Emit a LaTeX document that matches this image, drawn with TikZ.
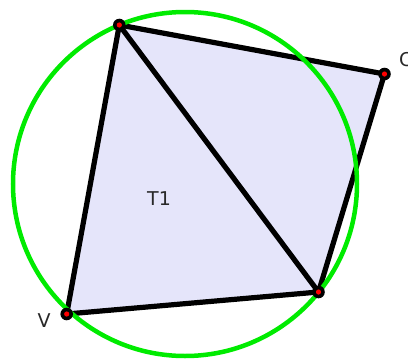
\documentclass[tikz,border=0pt]{standalone}
\usepackage{fontspec}
\setmainfont{DejaVu Sans}
\definecolor{lav}{RGB}{229,229,250}
\definecolor{ringgreen}{RGB}{0,235,0}
\definecolor{txt}{RGB}{40,40,40}
\begin{document}
\begin{tikzpicture}[x=1pt,y=-1pt,
  edge/.style={draw=black, line width=5.2pt, line join=round, line cap=round},
  ring/.style={draw=ringgreen, line width=4.5pt},
  lbl/.style={font=\fontsize{19}{22}\selectfont, text=txt, inner sep=0pt},
  vtxout/.style={fill=black},
  vtxin/.style={fill=red}]
\useasboundingbox (0,0) rectangle (408,360);
\coordinate (A) at (119.3,25);
\coordinate (C) at (384.5,74);
\coordinate (B) at (318.5,292);
\coordinate (V) at (66.7,314);
\fill[lav] (A) -- (C) -- (B) -- (V) -- cycle;
\draw[edge] (A) -- (C) -- (B) -- (V) -- cycle;
\draw[edge] (A) -- (B);
\draw[ring] (185,184) circle[radius=172];
\foreach \p in {A,C,B,V}{
  \fill[vtxout] (\p) circle[radius=6.3];
  \fill[vtxin] (\p) circle[radius=2.6];
}
\node[lbl, anchor=west] (lc) at (399,60) {C};
\node[lbl] (lv) at (44,321) {V};
\node[lbl] (lt) at (159,199) {T1};
\end{tikzpicture}
\end{document}
